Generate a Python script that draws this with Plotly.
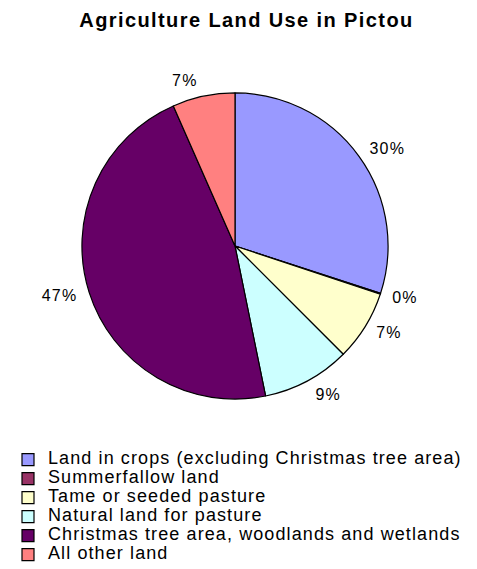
import plotly.graph_objects as go

categories = [
    "Land in crops (excluding Christmas tree area)",
    "Summerfallow land",
    "Tame or seeded pasture",
    "Natural land for pasture",
    "Christmas tree area, woodlands and wetlands",
    "All other land",
]
values = [30.0, 0.1, 7.4, 9.3, 46.6, 6.6]
colors = ["#9999FF", "#993366", "#FFFFCC", "#CCFFFF", "#660066", "#FF8080"]

FONT = "Arial, Liberation Sans, sans-serif"
legend_labels = [
    '<span style="font-size:18px;letter-spacing:1.1px">' + c + "</span>" for c in categories
]
pct_template = '<span style="letter-spacing:1.2px">%{percent:.0%}</span>'

# the visible pie (no text of its own)
fig = go.Figure(go.Pie(
    labels=legend_labels,
    values=values,
    sort=False,
    direction="clockwise",
    rotation=0,
    marker=dict(colors=colors, line=dict(color="black", width=1.2)),
    textinfo="none",
    domain=dict(x=[0.1059, 0.8459], y=[0.3127, 0.8507]),
    hovertemplate="%{label}: %{percent}<extra></extra>",
))

# transparent, slightly larger ring that carries the percentage labels a bit further out
fig.add_trace(go.Pie(
    labels=legend_labels,
    values=values,
    sort=False,
    direction="clockwise",
    rotation=0,
    marker=dict(colors=["rgba(0,0,0,0)"] * len(values), line=dict(width=0)),
    textposition="outside",
    texttemplate=pct_template,
    textfont=dict(family=FONT, size=16, color="black"),
    domain=dict(x=[0.1384, 0.8134], y=[0.2988, 0.8647]),
    hoverinfo="skip",
    showlegend=False,
))

fig.update_layout(
    width=477, height=569,
    margin=dict(l=0, r=0, t=0, b=0),
    paper_bgcolor="white",
    title=dict(text='<b><span style="letter-spacing:1.4px">Agriculture Land Use in Pictou</span></b>',
               x=0.5, xanchor="center", y=0.979, yanchor="middle",
               font=dict(family=FONT, size=20, color="black")),
    legend=dict(x=0, y=0.2316, xanchor="left", yanchor="top",
                font=dict(family=FONT, size=12, color="black"),
                tracegroupgap=0, itemwidth=30, bgcolor="rgba(0,0,0,0)"),
    showlegend=True,
)

fig.write_html("out.html")
